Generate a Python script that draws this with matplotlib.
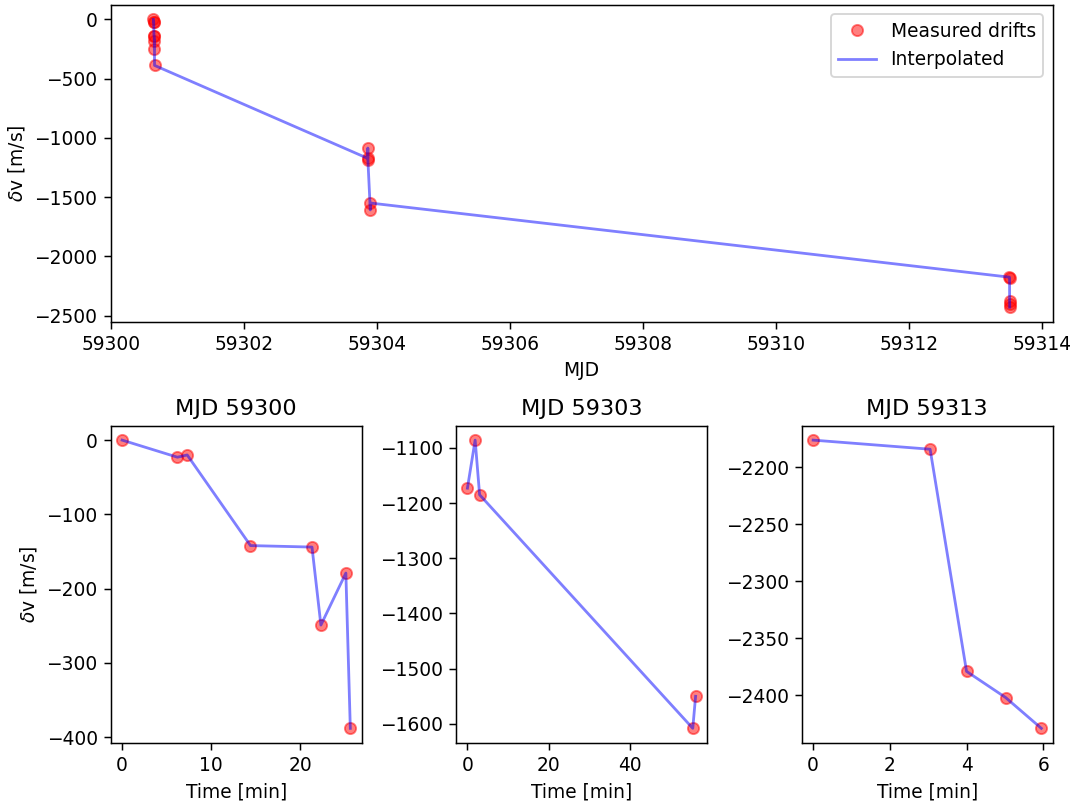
import numpy as np
import matplotlib
matplotlib.use("Agg")
import matplotlib.pyplot as plt

# night start (MJD) and drift measurements, times in minutes from first exposure
mjd_start = [59300.64, 59303.862, 59313.505]
titles = ["MJD 59300", "MJD 59303", "MJD 59313"]

t1 = [0, 6.2, 7.3, 14.4, 21.3, 22.3, 25.1, 25.6]
v1 = [0, -23, -20, -142, -144, -249, -179, -388]
t2 = [0, 1.9, 3.0, 55.5, 56.2]
v2 = [-1173, -1086, -1185, -1608, -1550]
t3 = [0, 3.05, 4.0, 5.02, 5.95]
v3 = [-2176, -2184, -2379, -2402, -2429]

times = [t1, t2, t3]
drifts = [v1, v2, v3]

mjd = np.concatenate([m + np.array(t) / 1440. for m, t in zip(mjd_start, times)])
dv = np.concatenate([np.array(v) for v in drifts])

dpi = 134.25
fig = plt.figure(figsize=(1074 / dpi, 802 / dpi), dpi=dpi)

ax = fig.add_axes([0.1029, 0.5991, 0.8771, 0.3946])
ax.plot(mjd, dv, 'ro', alpha=0.5, label='Measured drifts')
ax.plot(mjd, dv, 'b-', alpha=0.5, label='Interpolated')
ax.set_xlabel('MJD')
ax.set_ylabel(r'$\delta$v [m/s]')
ax.legend(loc='upper right')

lefts = [0.1031, 0.4246, 0.7465]
for i in range(3):
    a = fig.add_axes([lefts[i], 0.0739, 0.2337, 0.3953])
    a.plot(times[i], drifts[i], 'ro', alpha=0.5)
    a.plot(times[i], drifts[i], 'b-', alpha=0.5)
    a.set_title(titles[i])
    a.set_xlabel('Time [min]')
    if i == 0:
        a.set_ylabel(r'$\delta$v [m/s]')

fig.savefig('out.png', dpi=dpi)
